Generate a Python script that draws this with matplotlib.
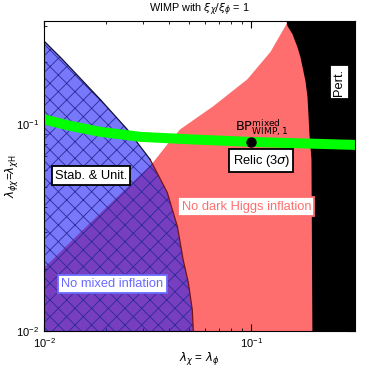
import matplotlib
matplotlib.use('Agg')
import matplotlib.pyplot as plt

plt.rcParams['font.family'] = ['Liberation Sans', 'DejaVu Sans']
plt.rcParams['mathtext.fontset'] = 'dejavusans'
plt.rcParams['hatch.linewidth'] = 0.6

# axis range (log-log)
xlim = (1e-2, 10 ** -0.5)
ylim = (1e-2, 10 ** -0.5)

# blue region: stability & unitarity / no mixed inflation (left of curve)
blue_x = [0.01, 0.01222, 0.01866, 0.02518, 0.0325, 0.0393, 0.0440, 0.0469, 0.0497, 0.0519, 0.0525]
blue_y = [0.253, 0.207, 0.132, 0.0946, 0.0676, 0.0468, 0.0320, 0.0221, 0.0171, 0.01265, 0.01]

# red region: no dark Higgs inflation (below curve)
red_x = [0.01, 0.01542, 0.0333, 0.0397, 0.0454, 0.0655, 0.0957, 0.1236, 0.1460, 0.151]
red_y = [0.0202, 0.0309, 0.0647, 0.0809, 0.0946, 0.1223, 0.1652, 0.2239, 0.2992, 0.32]

# black region: perturbativity (right of curve)
pert_x = [0.1476, 0.1493, 0.1578, 0.1668, 0.1725, 0.1783, 0.1824, 0.1866, 0.1885, 0.1907, 0.195, 0.197]
pert_y = [0.32, 0.299, 0.2735, 0.2365, 0.2115, 0.1807, 0.1617, 0.1352, 0.1119, 0.0894, 0.0676, 0.01]

# relic abundance band
relic_x = [0.01, 0.01336, 0.01866, 0.0291, 0.0507, 0.1, 0.318]
relic_y = [0.1057, 0.0983, 0.0920, 0.0870, 0.0846, 0.0822, 0.0795]

# benchmark point
bp_x, bp_y = 0.1, 0.0818

fig = plt.figure(figsize=(3.74, 3.67), dpi=100)
ax = fig.add_axes([44 / 374, 1 - 331 / 367, 311 / 374, 310 / 367])
ax.set_xscale('log')
ax.set_yscale('log')

RED = '#ff6e6e'
BLUE = '#1e1ef7'

# red
rx = red_x + [1.0, 1.0, 0.005, 0.005]
ry = red_y + [0.5, 0.005, 0.005, red_y[0]]
ax.fill(rx, ry, color=RED, lw=0, zorder=1)

# blue
bx = [0.005] + blue_x + [0.005]
by = [blue_y[0]] + blue_y + [0.005]
ax.fill(bx, by, color=BLUE, alpha=0.6, lw=0, zorder=2)
ax.fill(bx, by, facecolor='none', edgecolor='#2a2a9a', hatch='xx', lw=0, zorder=2)
ax.plot(blue_x[:5], blue_y[:5], color='#111133', lw=0.9, zorder=3)
ax.plot(blue_x[4:], blue_y[4:], color='#7a1010', lw=0.9, zorder=3)

# black
px_ = pert_x + [1.0, 1.0]
py_ = pert_y + [0.005, 0.5]
ax.fill(px_, py_, color='black', lw=0, zorder=4)

ax.plot(relic_x, relic_y, color='#00ff00', lw=7.2, solid_capstyle='butt', zorder=5)
ax.plot([bp_x], [bp_y], 'o', color='black', ms=6.5, zorder=6)

ax.set_xlim(*xlim)
ax.set_ylim(*ylim)

fs = 9.3
box = dict(boxstyle='square,pad=0.25', fc='white', lw=1.3)
ax.annotate(r'$\mathrm{BP}^{\mathrm{mixed}}_{\mathrm{WIMP,1}}$', (bp_x, bp_y),
            xytext=(7, 3), textcoords='offset points', ha='center', va='bottom',
            fontsize=fs, zorder=7)
ax.text(0.1117, 0.0668, r'Relic (3$\sigma$)', ha='center', va='center', fontsize=fs, zorder=7,
        bbox=dict(box, ec='black'))
ax.text(0.266, 0.160, 'Pert.', rotation=90, ha='center', va='center', fontsize=fs, zorder=7,
        bbox=dict(box, ec='black'))
ax.text(0.01687, 0.0565, 'Stab. & Unit.', ha='center', va='center', fontsize=fs, zorder=7,
        bbox=dict(box, ec='black'))
ax.text(0.02134, 0.0169, 'No mixed inflation', ha='center', va='center', fontsize=fs,
        color='#6a6aff', zorder=7, bbox=dict(box, ec='#6a6aff'))
ax.text(0.0946, 0.040, 'No dark Higgs inflation', ha='center', va='center', fontsize=fs,
        color=RED, zorder=7, bbox=dict(box, ec=RED))

ax.set_title(r'WIMP with $\xi_\chi/\xi_\phi$ = 1', fontsize=7.8, pad=6)
ax.set_xlabel(r'$\lambda_\chi$ = $\lambda_\phi$', fontsize=8.5)
ax.set_ylabel(r'$\lambda_{\phi\chi}$=$\lambda_{\chi\mathrm{H}}$', fontsize=8.5)
ax.xaxis.set_label_coords(0.5, -0.062)
ax.yaxis.set_label_coords(-0.078, 0.5)

ax.tick_params(which='both', direction='in', top=True, right=True, labelsize=8)
ax.tick_params(which='major', length=5, width=0.8)
ax.tick_params(which='minor', length=2.5, width=0.6)
for s in ax.spines.values():
    s.set_linewidth(0.8)
    s.set_zorder(8)

fig.savefig('out.png', dpi=100)
